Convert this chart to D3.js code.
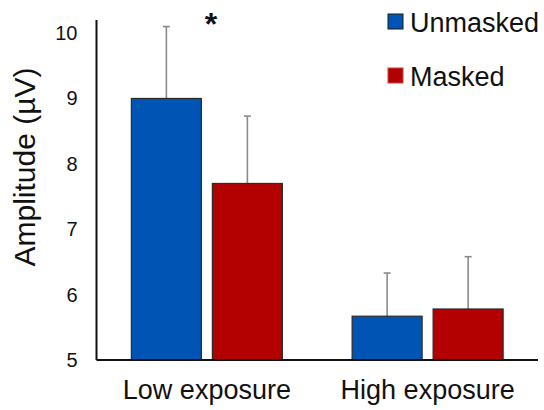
<!DOCTYPE html>
<html>
<head>
<meta charset="utf-8">
<script src="https://cdn.jsdelivr.net/npm/d3@7"></script>
<style>
  html, body { margin: 0; padding: 0; background: #fff; }
  svg { display: block; font-family: "Liberation Sans", Arial, sans-serif; }
</style>
</head>
<body>
<svg id="chart" width="544" height="410"></svg>
<script>
// Mean amplitude per exposure condition, with upper error (mean + SD)
const groups = ["Low exposure", "High exposure"];
const series = ["Unmasked", "Masked"];
const unmaskedMeans = [9.0, 5.67];
const maskedMeans = [7.7, 5.78];
const unmaskedErrTop = [10.1, 6.33];
const maskedErrTop = [8.73, 6.58];
const yTicks = [5, 6, 7, 8, 9, 10];
const colors = { Unmasked: "#0054b4", Masked: "#b30000" };

const rows = groups.map((g, i) => ({
  group: g,
  bars: [
    { key: "Unmasked", value: unmaskedMeans[i], top: unmaskedErrTop[i] },
    { key: "Masked", value: maskedMeans[i], top: maskedErrTop[i] }
  ]
}));

const svg = d3.select("#chart");
const left = 96.5, right = 538, baseY = 360, topY = 20;

const y = d3.scaleLinear().domain([5, 10.2]).range([baseY, topY]);
const x0 = d3.scaleBand().domain(groups).range([left, right]).padding(0);
const inner = 151;
const x1 = d3.scaleBand().domain(series)
  .range([(x0.bandwidth() - inner) / 2, (x0.bandwidth() + inner) / 2])
  .paddingInner(11 / 81).paddingOuter(0);

// Bars
const g = svg.append("g");
const grp = g.selectAll("g.grp").data(rows).join("g")
  .attr("class", "grp")
  .attr("transform", d => `translate(${x0(d.group)},0)`);

// Error bars (upper only), drawn behind bars
grp.selectAll("g.err").data(d => d.bars).join("g")
  .attr("class", "err")
  .each(function(d) {
    const cx = x1(d.key) + x1.bandwidth() / 2;
    const s = d3.select(this);
    s.append("line")
      .attr("x1", cx).attr("x2", cx)
      .attr("y1", y(d.value)).attr("y2", y(d.top))
      .attr("stroke", "#8a8a8a").attr("stroke-width", 1.6);
    s.append("line")
      .attr("x1", cx - 3.5).attr("x2", cx + 3.5)
      .attr("y1", y(d.top)).attr("y2", y(d.top))
      .attr("stroke", "#8a8a8a").attr("stroke-width", 1.6);
  });

grp.selectAll("rect").data(d => d.bars).join("rect")
  .attr("x", d => x1(d.key))
  .attr("width", x1.bandwidth())
  .attr("y", d => y(d.value))
  .attr("height", d => y(5) - y(d.value))
  .attr("fill", d => colors[d.key])
  .attr("stroke", "#2a2a2a")
  .attr("stroke-width", 1.2);

// Y axis
const yAxis = d3.axisLeft(y).tickValues(yTicks).tickSize(0).tickPadding(19)
  .tickFormat(d3.format("d"));
const ya = svg.append("g").attr("transform", `translate(${left},0)`).call(yAxis);
ya.select(".domain").remove();
ya.selectAll("text").attr("font-size", 20).attr("fill", "#111")
  .attr("font-family", "Liberation Sans, Arial, sans-serif");
svg.append("line")
  .attr("x1", left).attr("x2", left).attr("y1", topY).attr("y2", baseY)
  .attr("stroke", "#111").attr("stroke-width", 2);

// X axis
const xAxis = d3.axisBottom(x0).tickSize(0).tickPadding(20);
const xa = svg.append("g").attr("transform", `translate(0,${baseY})`).call(xAxis);
xa.select(".domain").remove();
xa.selectAll("text").attr("font-size", 27).attr("fill", "#111")
  .attr("font-family", "Liberation Sans, Arial, sans-serif");
svg.append("line")
  .attr("x1", left).attr("x2", right).attr("y1", baseY).attr("y2", baseY)
  .attr("stroke", "#111").attr("stroke-width", 2);

// Y axis title
svg.append("text")
  .attr("transform", "translate(35,167) rotate(-90)")
  .attr("text-anchor", "middle")
  .attr("font-size", 30)
  .attr("fill", "#111")
  .text("Amplitude (µV)");

// Significance marker
svg.append("text")
  .attr("x", x0("Low exposure") + x0.bandwidth() / 2 + 4)
  .attr("y", 35)
  .attr("text-anchor", "middle")
  .attr("font-size", 32)
  .attr("font-weight", "bold")
  .attr("fill", "#111")
  .text("*");

// Legend
const legend = svg.append("g").attr("transform", "translate(388,14)");
series.forEach((s, i) => {
  const row = legend.append("g").attr("transform", `translate(0,${i * 54})`);
  row.append("rect").attr("width", 15).attr("height", 15)
    .attr("fill", colors[s])
    .attr("stroke", s === "Unmasked" ? "#1a1a1a" : "#d04040")
    .attr("stroke-width", 1);
  row.append("text").attr("x", 22).attr("y", 18)
    .attr("font-size", 27).attr("fill", "#111").text(s);
});
</script>
</body>
</html>
